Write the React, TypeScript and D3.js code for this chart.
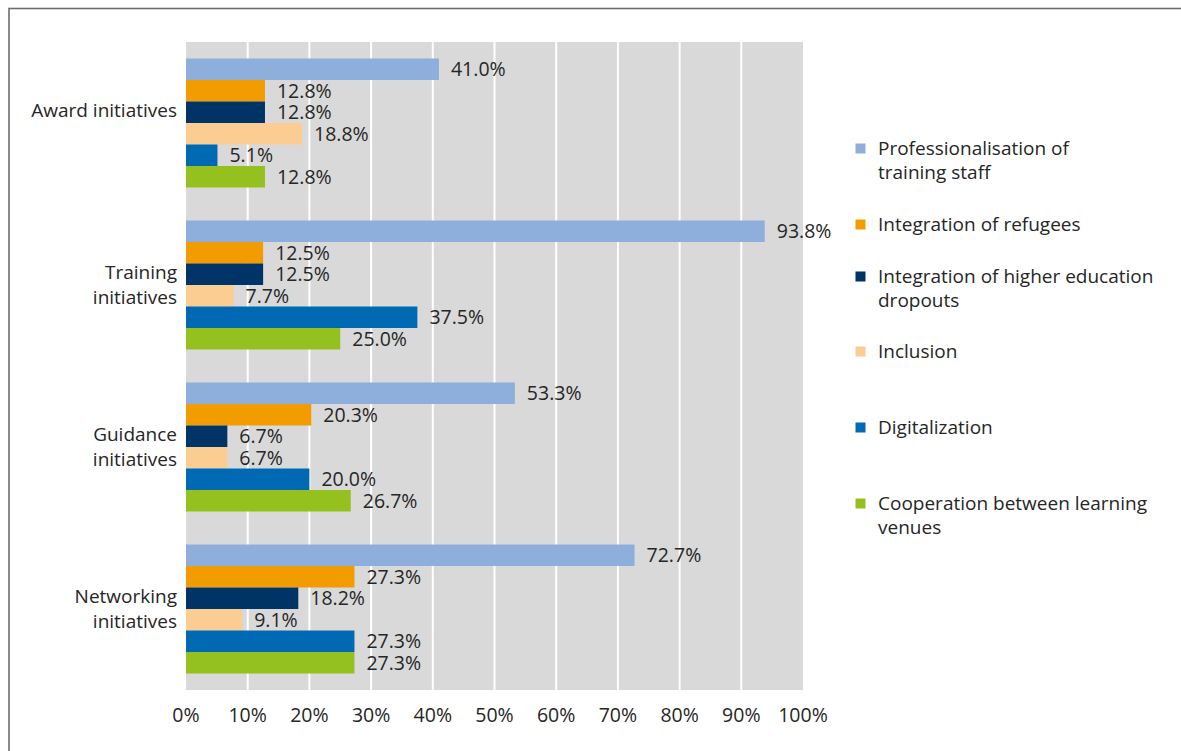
import React from 'react';
import * as d3 from 'd3';

// chart values
const categories = ['Award initiatives', 'Training initiatives', 'Guidance initiatives', 'Networking initiatives'];
// how each category label breaks into lines (Award keeps an empty 2nd line, like the original)
const categoryLines = [['Award initiatives', ''], ['Training', 'initiatives'], ['Guidance', 'initiatives'], ['Networking', 'initiatives']];
const seriesNames = [
  'Professionalisation of training staff',
  'Integration of refugees',
  'Integration of higher education dropouts',
  'Inclusion',
  'Digitalization',
  'Cooperation between learning venues',
];
const legendLines = [
  ['Professionalisation of', 'training staff'],
  ['Integration of refugees'],
  ['Integration of higher education', 'dropouts'],
  ['Inclusion'],
  ['Digitalization'],
  ['Cooperation between learning', 'venues'],
];
const seriesColors = ['#8eaedc', '#f39c00', '#003366', '#fbcd92', '#0069b4', '#95c11f'];
const professionalisation = [41.0, 93.8, 53.3, 72.7];
const refugees = [12.8, 12.5, 20.3, 27.3];
const dropouts = [12.8, 12.5, 6.7, 18.2];
const inclusion = [18.8, 7.7, 6.7, 9.1];
const digitalization = [5.1, 37.5, 20.0, 27.3];
const cooperation = [12.8, 25.0, 26.7, 27.3];
const xTicks = [0, 10, 20, 30, 40, 50, 60, 70, 80, 90, 100];

const values = [professionalisation, refugees, dropouts, inclusion, digitalization, cooperation];

const W = 1181;
const H = 751;
const plot = { left: 186, right: 803, top: 42, bottom: 690 };
const FONT = '"Open Sans", sans-serif';
const TEXT = '#262626';

export default function App() {
  const x = d3.scaleLinear().domain([0, 100]).range([plot.left, plot.right]);
  const y = d3.scaleBand<string>().domain(categories).range([plot.top, plot.bottom])
    .paddingInner(0.2037).paddingOuter(0.1018);
  const yInner = d3.scaleBand<string>().domain(seriesNames).range([0, y.bandwidth()]).padding(0);
  const fmt = d3.format('.1f');

  const legendY = [148, 224, 276, 351, 427, 503]; // first-line positions of legend entries

  return (
    <svg width={W} height={H} style={{ position: 'absolute', left: 0, top: 0, background: '#fff' }}
      fontFamily={FONT}>
      {/* outer frame */}
      <rect x={9} y={8.5} width={W + 20} height={H + 20} fill="none" stroke="#6d6d6d" strokeWidth={1.6} />

      {/* plot background + gridlines */}
      <rect x={plot.left} y={plot.top} width={plot.right - plot.left} height={plot.bottom - plot.top} fill="#d9d9d9" />
      {xTicks.slice(1, -1).map(t => (
        <line key={t} x1={x(t)} x2={x(t)} y1={plot.top} y2={plot.bottom} stroke="#fff" strokeWidth={2} />
      ))}

      {/* bars */}
      {categories.map((c, ci) => (
        <g key={c} transform={`translate(0,${y(c)})`}>
          {seriesNames.map((s, si) => {
            const v = values[si][ci];
            const by = yInner(s)!;
            return (
              <g key={s}>
                <rect x={x(0)} y={by} width={x(v) - x(0)} height={yInner.bandwidth()} fill={seriesColors[si]} />
                <text x={x(v) + 12} y={by + yInner.bandwidth() / 2} dy="0.35em" fontSize={19.5} fill={TEXT}>
                  {fmt(v)}%
                </text>
              </g>
            );
          })}
        </g>
      ))}

      {/* category labels */}
      {categories.map((c, ci) => {
        const lines = categoryLines[ci];
        const cy = y(c)! + y.bandwidth() / 2;
        const lh = 25;
        return (
          <text key={c} textAnchor="end" fontSize={19} fill={TEXT}>
            {lines.map((l, li) => (
              <tspan key={li} x={177} y={cy + (li - (lines.length - 1) / 2) * lh} dy="0.35em">{l}</tspan>
            ))}
          </text>
        );
      })}

      {/* x axis labels */}
      {xTicks.map(t => (
        <text key={t} x={x(t)} y={plot.bottom + 25} dy="0.35em" textAnchor="middle" fontSize={19.5} fill={TEXT}>
          {t}%
        </text>
      ))}

      {/* legend */}
      {seriesNames.map((s, si) => (
        <g key={s}>
          <rect x={855.5} y={legendY[si] - 4.5} width={10} height={10} fill={seriesColors[si]} />
          <text fontSize={19} fill={TEXT}>
            {legendLines[si].map((l, li) => (
              <tspan key={li} x={878} y={legendY[si] + li * 24} dy="0.35em">{l}</tspan>
            ))}
          </text>
        </g>
      ))}
    </svg>
  );
}
